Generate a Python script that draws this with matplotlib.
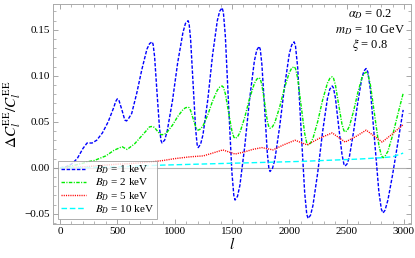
import matplotlib
matplotlib.use('Agg')
import matplotlib.pyplot as plt
from matplotlib.ticker import MultipleLocator, FuncFormatter

plt.rcParams['font.family'] = ['Liberation Serif', 'DejaVu Serif']
plt.rcParams['mathtext.fontset'] = 'stix'

# B_D = 1 keV
l_blue = [0, 50, 100, 150, 200, 236, 280, 320, 370, 420, 470, 485, 500, 515, 540, 565, 580, 595,
          625, 669, 714, 758, 781, 803, 812, 825, 846, 868, 881, 890, 913,
          935, 981, 1026, 1072, 1094, 1117, 1126, 1139, 1161, 1183, 1196, 1205, 1226,
          1247, 1289, 1330, 1372, 1393, 1414, 1425, 1442, 1470, 1499, 1516, 1527, 1548,
          1569, 1611, 1653, 1695, 1716, 1737, 1747, 1761, 1785, 1808, 1822, 1832, 1853,
          1874, 1916, 1958, 2000, 2021, 2042, 2054, 2073, 2103, 2134, 2152, 2164, 2185,
          2206, 2248, 2290, 2332, 2353, 2374, 2385, 2402, 2430, 2459, 2476, 2487, 2505,
          2524, 2560, 2597, 2633, 2652, 2670, 2685, 2707, 2744, 2781, 2803, 2818, 2835,
          2860, 2900, 2950, 2993]
d_blue = [0.000, 0.001, 0.004, 0.010, 0.021, 0.027, 0.027, 0.030, 0.038, 0.050, 0.066, 0.072,
          0.075, 0.073, 0.063, 0.052, 0.051, 0.053,
          0.059, 0.081, 0.107, 0.129, 0.135, 0.137, 0.1344, 0.121, 0.082, 0.043, 0.0296, 0.027, 0.0302,
          0.040, 0.073, 0.114, 0.147, 0.157, 0.160, 0.1567, 0.140, 0.091, 0.042, 0.0253, 0.022, 0.0256,
          0.036, 0.074, 0.122, 0.160, 0.1704, 0.174, 0.169, 0.1435, 0.0695, -0.0045, -0.030, -0.035, -0.031,
          -0.019, 0.023, 0.074, 0.116, 0.128, 0.132, 0.1287, 0.112, 0.064, 0.016, -0.0007, -0.004, -0.0006,
          0.009, 0.045, 0.088, 0.124, 0.1336, 0.137, 0.1324, 0.109, 0.041, -0.027, -0.0504, -0.055, -0.0515,
          -0.041, -0.005, 0.039, 0.075, 0.0855, 0.089, 0.0869, 0.076, 0.0455, 0.015, 0.0041, 0.002, 0.0045,
          0.012, 0.039, 0.071, 0.098, 0.1055, 0.108, 0.1042, 0.085, 0.0295, -0.026, -0.0452, -0.049, -0.046,
          -0.035, -0.008, 0.030, 0.063]

# B_D = 2 keV
l_green = [0, 100, 200, 236, 300, 400, 470, 541, 585, 650, 700, 750, 780, 803, 812, 825, 846, 868,
           881, 890, 913,
           935, 981, 1026, 1072, 1094, 1117, 1126, 1139, 1161, 1183, 1196, 1205, 1226,
           1247, 1289, 1330, 1372, 1393, 1414, 1425, 1442, 1470, 1499, 1516, 1527, 1548,
           1569, 1611, 1653, 1695, 1716, 1737, 1747, 1761, 1785, 1808, 1822, 1832, 1853,
           1874, 1916, 1958, 2000, 2021, 2042, 2054, 2073, 2103, 2134, 2152, 2164, 2185,
           2206, 2248, 2290, 2332, 2353, 2374, 2385, 2402, 2430, 2459, 2476, 2487, 2505,
           2524, 2560, 2597, 2633, 2652, 2670, 2685, 2707, 2744, 2781, 2803, 2818, 2835,
           2860, 2900, 2950, 2993]
d_green = [0.000, 0.002, 0.005, 0.0065, 0.008, 0.013, 0.019, 0.023, 0.020, 0.026, 0.033, 0.040,
           0.0445, 0.045, 0.0448, 0.0437, 0.0405, 0.0373, 0.0362, 0.036, 0.0367,
           0.0389, 0.0464, 0.0557, 0.0632, 0.0653, 0.066, 0.0654, 0.0623, 0.0535, 0.0447, 0.0416, 0.041, 0.0422,
           0.0456, 0.0576, 0.0724, 0.0844, 0.0878, 0.089, 0.0876, 0.0807, 0.0605, 0.0403, 0.0334, 0.032, 0.0336,
           0.0383, 0.0548, 0.0752, 0.0917, 0.0964, 0.098, 0.0967, 0.090, 0.0705, 0.051, 0.0443, 0.043, 0.0446,
           0.0494, 0.0661, 0.0869, 0.1036, 0.1084, 0.110, 0.108, 0.0976, 0.0675, 0.0374, 0.027, 0.025, 0.0268,
           0.032, 0.0505, 0.0735, 0.092, 0.0972, 0.099, 0.0976, 0.0902, 0.069, 0.0477, 0.0404, 0.039, 0.0406,
           0.0452, 0.0614, 0.0816, 0.0978, 0.1024, 0.104, 0.1018, 0.0904, 0.0575, 0.0246, 0.0132, 0.011, 0.0127,
           0.018, 0.035, 0.060, 0.081]

# B_D = 5 keV
l_red = [0, 100, 200, 300, 400, 500, 600, 700, 800, 900, 1000, 1135, 1250, 1330, 1420,
         1527, 1600, 1680, 1760, 1858, 1950, 2050, 2155, 2260, 2374, 2487, 2580,
         2670, 2810, 2900, 2993]
d_red = [0.000, 0.0005, 0.001, 0.002, 0.003, 0.004, 0.0045, 0.0055, 0.0065, 0.008, 0.010, 0.012,
         0.013, 0.016, 0.0195, 0.015, 0.017, 0.020, 0.022, 0.0195, 0.025, 0.030, 0.025, 0.032,
         0.038, 0.028, 0.034, 0.041, 0.028, 0.037, 0.047]

# B_D = 10 keV
l_cyan = [0, 300, 500, 700, 900, 1200, 1500, 1800, 2100, 2400, 2600, 2800, 2900, 2993]
d_cyan = [0.000, 0.0005, 0.001, 0.002, 0.003, 0.004, 0.005, 0.006, 0.007, 0.0085, 0.0095,
          0.011, 0.012, 0.016]

labels = [r'$B_D$ = 1 keV', r'$B_D$ = 2 keV', r'$B_D$ = 5 keV', r'$B_D$ = 10 keV']

fig = plt.figure(figsize=(4.15, 2.58), dpi=100)
ax = fig.add_axes([0.128, 0.132, 0.862, 0.852])

ax.axhline(0, color='#b0b0b0', lw=0.8, zorder=1)
ax.plot(l_blue, d_blue, color='#0000ff', lw=1.0, ls=(0, (2.5, 1.2)), label=labels[0])
ax.plot(l_green, d_green, color='#00ee00', lw=1.0, ls=(0, (2.5, 1, 0.8, 1)), label=labels[1])
ax.plot(l_red, d_red, color='#ff0000', lw=1.0, ls=(0, (0.8, 0.8)), label=labels[2])
ax.plot(l_cyan, d_cyan, color='#00ffff', lw=1.0, ls=(0, (4, 2)), label=labels[3])

ax.set_xlim(-60, 3060)
ax.set_ylim(-0.061, 0.178)
ax.xaxis.set_major_locator(MultipleLocator(500))
ax.xaxis.set_minor_locator(MultipleLocator(100))
ax.yaxis.set_major_locator(MultipleLocator(0.05))
ax.yaxis.set_minor_locator(MultipleLocator(0.01))
ax.yaxis.set_major_formatter(FuncFormatter(lambda v, p: ('%.2f' % v).replace('-', '\u2212')))
ax.tick_params(which='both', direction='in', top=True, right=True,
               color='#999999', labelsize=8, pad=2)
ax.tick_params(which='major', length=3.5, width=0.6)
ax.tick_params(which='minor', length=2, width=0.5)
for s in ax.spines.values():
    s.set_color('#aaaaaa')
    s.set_linewidth(0.7)

ax.set_xlabel(r'$l$', fontsize=11, labelpad=0)
ax.set_ylabel(r'$\Delta C_l^{\rm EE}/C_l^{\rm EE}$', fontsize=11, labelpad=1)

ax.text(0.885, 0.955, r'$\alpha_D$ = 0.2', transform=ax.transAxes, ha='center', va='center', fontsize=9)
ax.text(0.885, 0.882, r'$m_D$ = 10 GeV', transform=ax.transAxes, ha='center', va='center', fontsize=9)
ax.text(0.885, 0.812, r'$\xi$ = 0.8', transform=ax.transAxes, ha='center', va='center', fontsize=9)

leg = ax.legend(loc='lower left', fontsize=8, frameon=True, fancybox=False,
                borderaxespad=0.45, handlelength=2.2, handletextpad=0.8,
                labelspacing=0.05, borderpad=0.3)
leg.get_frame().set_edgecolor('#999999')
leg.get_frame().set_linewidth(0.7)

fig.savefig('out.png', dpi=100)
